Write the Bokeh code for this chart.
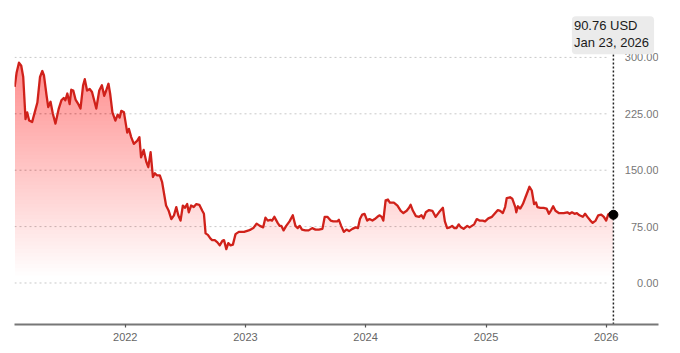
import numpy as np
import pandas as pd
from bokeh.plotting import figure
from bokeh.models import Range1d, FixedTicker, DatetimeTickFormatter, Label
from bokeh.core.properties import value
from bokeh.embed import file_html
from bokeh.resources import INLINE

dates = [
    "2021-01-30", "2021-02-05", "2021-02-12", "2021-02-19", "2021-02-25", "2021-03-04", "2021-03-09",
    "2021-03-15", "2021-03-24", "2021-04-09", "2021-04-17", "2021-04-24", "2021-04-29", "2021-05-07",
    "2021-05-12", "2021-05-19", "2021-05-26", "2021-06-03", "2021-06-13", "2021-06-21", "2021-06-28",
    "2021-07-03", "2021-07-09", "2021-07-16", "2021-07-21", "2021-07-27", "2021-08-03", "2021-08-10",
    "2021-08-18", "2021-08-26", "2021-08-31", "2021-09-07", "2021-09-15", "2021-09-22", "2021-10-05",
    "2021-10-14", "2021-10-22", "2021-10-29", "2021-11-04", "2021-11-11", "2021-11-16", "2021-11-23",
    "2021-12-02", "2021-12-09", "2021-12-15", "2021-12-20", "2021-12-28", "2022-01-07", "2022-01-12",
    "2022-01-19", "2022-01-27", "2022-02-06", "2022-02-13", "2022-02-18", "2022-02-26", "2022-03-06",
    "2022-03-12", "2022-03-19", "2022-03-26", "2022-04-01", "2022-04-08", "2022-04-16", "2022-04-23",
    "2022-05-05", "2022-05-13", "2022-05-21", "2022-05-29", "2022-06-05", "2022-06-11", "2022-06-18",
    "2022-06-25", "2022-07-01", "2022-07-08", "2022-07-13", "2022-07-20", "2022-07-28", "2022-08-05",
    "2022-08-14", "2022-08-23", "2022-08-28", "2022-09-02", "2022-09-09", "2022-09-17", "2022-09-22",
    "2022-09-30", "2022-10-08", "2022-10-15", "2022-10-23", "2022-10-28", "2022-11-04", "2022-11-10",
    "2022-11-17", "2022-11-24", "2022-12-02", "2022-12-12", "2022-12-28", "2023-01-11", "2023-01-17",
    "2023-01-25", "2023-02-04", "2023-02-14", "2023-02-24", "2023-03-03", "2023-03-10", "2023-03-18",
    "2023-03-23", "2023-03-30", "2023-04-09", "2023-04-15", "2023-04-20", "2023-04-27", "2023-05-05",
    "2023-05-15", "2023-05-25", "2023-06-02", "2023-06-09", "2023-06-15", "2023-06-22", "2023-07-02",
    "2023-07-12", "2023-07-23", "2023-08-02", "2023-08-12", "2023-08-23", "2023-08-30", "2023-09-07",
    "2023-09-17", "2023-09-25", "2023-10-07", "2023-10-12", "2023-10-19", "2023-10-27", "2023-11-04",
    "2023-11-12", "2023-11-22", "2023-12-02", "2023-12-09", "2023-12-15", "2023-12-22", "2023-12-29",
    "2024-01-06", "2024-01-13", "2024-01-22", "2024-01-29", "2024-02-06", "2024-02-13", "2024-02-19",
    "2024-02-24", "2024-03-02", "2024-03-09", "2024-03-15", "2024-03-27", "2024-04-07", "2024-04-17",
    "2024-04-25", "2024-05-05", "2024-05-12", "2024-05-17", "2024-05-24", "2024-06-02", "2024-06-12",
    "2024-06-19", "2024-06-25", "2024-07-02", "2024-07-12", "2024-07-22", "2024-08-01", "2024-08-11",
    "2024-08-23", "2024-08-29", "2024-09-05", "2024-09-13", "2024-09-20", "2024-09-27", "2024-10-03",
    "2024-10-10", "2024-10-17", "2024-10-25", "2024-11-05", "2024-11-12", "2024-11-19", "2024-11-26",
    "2024-12-04", "2024-12-12", "2024-12-22", "2024-12-29", "2025-01-08", "2025-01-19", "2025-01-29",
    "2025-02-06", "2025-02-13", "2025-02-21", "2025-02-28", "2025-03-05", "2025-03-15", "2025-03-22",
    "2025-03-31", "2025-04-03", "2025-04-08", "2025-04-15", "2025-04-23", "2025-04-30", "2025-05-07",
    "2025-05-13", "2025-05-20", "2025-05-27", "2025-06-02", "2025-06-06", "2025-06-15", "2025-06-25",
    "2025-07-04", "2025-07-11", "2025-07-18", "2025-07-24", "2025-07-31", "2025-08-10", "2025-08-25",
    "2025-09-05", "2025-09-12", "2025-09-19", "2025-09-27", "2025-10-04", "2025-10-12", "2025-10-22",
    "2025-10-29", "2025-11-05", "2025-11-14", "2025-11-21", "2025-11-30", "2025-12-08", "2025-12-17",
    "2025-12-25", "2026-01-01", "2026-01-07", "2026-01-14", "2026-01-23",
]

prices = [
    261, 280, 293, 289, 274, 218, 227,
    216, 214, 240, 274, 282, 276, 249,
    234, 241, 225, 212, 232, 243, 246,
    243, 252, 238, 257, 256, 244, 239,
    232, 263, 271, 256, 258, 254, 232,
    256, 263, 249, 256, 265, 252, 227,
    216, 224, 220, 229, 227, 200, 205,
    194, 185, 189, 194, 167, 177, 161,
    154, 174, 141, 146, 143, 143, 134,
    103, 96, 85, 90, 101, 90, 83,
    103, 100, 105, 94, 103, 101, 105,
    104, 96, 92, 66, 64, 59, 57,
    57, 54, 50, 56, 57, 45, 53,
    50, 51, 65, 68, 68, 70, 71,
    73, 79, 76, 74, 87, 83, 84,
    83, 88, 80, 76, 76, 70, 76,
    82, 90, 76, 73, 76, 71, 70,
    70, 73, 71, 71, 72, 88, 88,
    83, 82, 82, 84, 76, 68, 71,
    69, 72, 74, 73, 85, 91, 92,
    83, 85, 83, 85, 88, 90, 88,
    83, 110, 111, 107, 107, 103, 96,
    93, 96, 100, 104, 96, 89, 88,
    90, 86, 94, 97, 96, 88, 94,
    100, 82, 73, 74, 76, 73, 73,
    78, 74, 72, 76, 74, 76, 78,
    85, 83, 83, 82, 86, 88, 93,
    97, 96, 93, 101, 113, 114, 112,
    101, 94, 102, 99, 105, 113, 121,
    128, 123, 105, 107, 101, 100, 100,
    99, 92, 97, 102, 96, 93, 93,
    94, 92, 94, 92, 93, 90, 88,
    92, 88, 83, 80, 83, 90, 91,
    88, 83, 91, 93, 90.76,
]

y_ticks = [0, 75, 150, 225, 300]
x_tick_years = [2022, 2023, 2024, 2025, 2026]
price_text = "90.76 USD"
date_text = "Jan 23, 2026"

x = pd.to_datetime(dates)
y = np.array(prices, dtype=float)

X_START = pd.Timestamp("2021-01-29 12:00")
X_END = pd.Timestamp("2026-06-09 00:00")
Y_START, Y_END = -55.2, 375.7
FRAME_H = 324


def px_to_val(py):
    return Y_END - py * (Y_END - Y_START) / FRAME_H


p = figure(
    width=680, height=353,
    x_axis_type="datetime",
    x_range=Range1d(X_START, X_END),
    y_range=Range1d(Y_START, Y_END),
    y_axis_location=None,
    toolbar_location=None,
    output_backend="svg",
    min_border_left=14, min_border_right=22, min_border_top=0, min_border_bottom=29,
    outline_line_color=None,
    background_fill_color="white",
    border_fill_color="white",
)
p.grid.visible = False

# dashed horizontal gridlines (stop just before the marker line)
grid_end = x[-1] - pd.Timedelta(days=14)
p.segment(x0=[X_START] * len(y_ticks), y0=y_ticks, x1=[grid_end] * len(y_ticks), y1=y_ticks,
          line_color="#c8c8c8", line_dash="2 3", line_width=1)

# gradient area: stacked translucent layers
fill_col = "#d9342a"
levels = np.arange(10, 300, 5)
for L in levels:
    p.varea(x=x, y1=np.full(len(y), float(L)), y2=np.maximum(y, L),
            fill_color=fill_col, fill_alpha=0.006)

p.line(x, y, line_color="#d0211a", line_width=2.3, line_join="round")

# vertical dotted marker line
last_x = x[-1]
p.segment(x0=[last_x], y0=[Y_START], x1=[last_x], y1=[px_to_val(48)],
          line_color="#222222", line_dash="2 2", line_width=1.5)
p.scatter([last_x], [y[-1]], size=9, fill_color="black", line_color="black")

# right-side value labels
p.text(x=[X_END] * len(y_ticks), y=y_ticks, text=[f"{t:.2f}" for t in y_ticks],
       text_align="right", text_baseline="middle",
       text_font=value("Liberation Sans"), text_font_size="11px", text_color="#777777")

lab = Label(
    x=last_x.timestamp() * 1000, y=px_to_val(15.7), x_units="data", y_units="data",
    x_offset=-41.5, anchor="top_left",
    text=price_text + "\n" + date_text,
    text_font="Liberation Sans", text_font_size="13px", text_color="#1a1a1a",
    text_line_height=1.13,
    background_fill_color="#ebebeb", border_radius=4, padding=(2, 5, 2, 4),
)
p.add_layout(lab)

ax = p.xaxis[0]
ax.ticker = FixedTicker(ticks=[pd.Timestamp(f"{yr}-01-01").timestamp() * 1000 for yr in x_tick_years])
ax.formatter = DatetimeTickFormatter(years="%Y", months="%Y", days="%Y", hours="%Y",
                                     minutes="%Y", seconds="%Y", milliseconds="%Y")
ax.axis_line_color = "#777777"
ax.axis_line_width = 2
ax.major_tick_line_color = "#555555"
ax.major_tick_line_width = 1.2
ax.major_tick_out = 3
ax.major_tick_in = 0
ax.minor_tick_line_color = None
ax.major_label_text_font = "Liberation Sans"
ax.major_label_text_font_size = "11px"
ax.major_label_text_color = "#666666"
ax.major_label_standoff = 5

open("out.html", "w").write(file_html(p, INLINE))
